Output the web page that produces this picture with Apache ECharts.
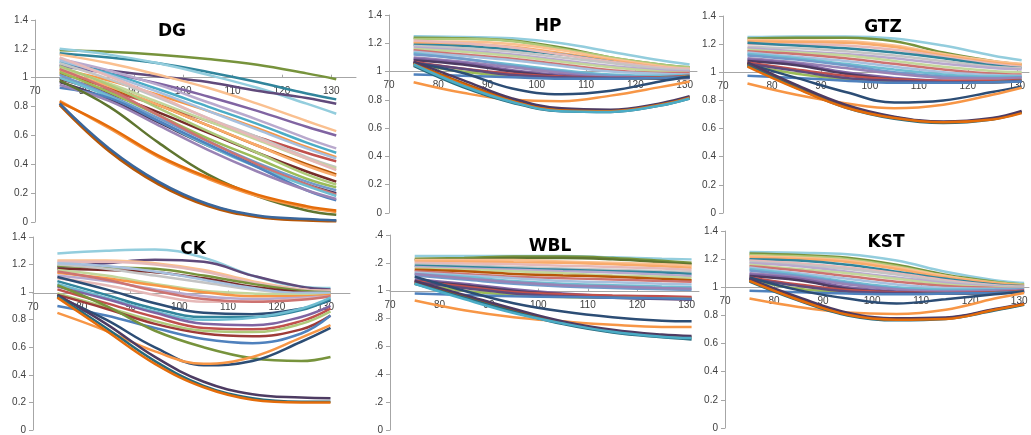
<!DOCTYPE html>
<html>
<head>
<meta charset="utf-8">
<script src="https://cdn.jsdelivr.net/npm/echarts@6/dist/echarts.min.js"></script>
<style>
    html, body { margin: 0; padding: 0; background: #fff; }
    #chart { width: 1031px; height: 435px; }
</style>
</head>
<body>
<div id="chart"></div>
<script>
// x positions shared by every curve
const xs = [75, 85, 95, 105, 115, 125, 131];

const dgLines = [
    [1.19, 1.18, 1.16, 1.13, 1.09, 1.03, 0.99],
    [1.17, 1.14, 1.10, 1.04, 0.97, 0.89, 0.85],
    [1.20, 1.16, 1.10, 1.02, 0.93, 0.82, 0.75],
    [1.09, 1.05, 1.01, 0.97, 0.91, 0.86, 0.82],
    [1.16, 1.10, 1.02, 0.93, 0.82, 0.70, 0.63],
    [1.08, 1.03, 0.96, 0.87, 0.77, 0.66, 0.60],
    [1.13, 1.05, 0.95, 0.83, 0.71, 0.58, 0.51],
    [1.11, 1.03, 0.92, 0.80, 0.68, 0.55, 0.48],
    [1.06, 0.98, 0.88, 0.77, 0.65, 0.52, 0.45],
    [1.12, 1.02, 0.90, 0.77, 0.64, 0.51, 0.44],
    [1.00, 0.91, 0.81, 0.70, 0.59, 0.48, 0.42],
    [1.10, 0.99, 0.86, 0.72, 0.59, 0.45, 0.38],
    [1.07, 0.96, 0.83, 0.70, 0.57, 0.44, 0.37],
    [1.14, 1.01, 0.87, 0.72, 0.58, 0.44, 0.36],
    [1.03, 0.93, 0.81, 0.67, 0.53, 0.40, 0.33],
    [1.05, 0.94, 0.81, 0.67, 0.53, 0.39, 0.32],
    [0.99, 0.89, 0.76, 0.62, 0.48, 0.35, 0.28],
    [1.08, 0.95, 0.79, 0.63, 0.48, 0.33, 0.26],
    [1.04, 0.90, 0.74, 0.58, 0.44, 0.30, 0.24],
    [1.02, 0.88, 0.72, 0.56, 0.41, 0.28, 0.22],
    [0.97, 0.85, 0.69, 0.53, 0.39, 0.26, 0.20],
    [1.06, 0.92, 0.74, 0.56, 0.40, 0.26, 0.19],
    [1.00, 0.87, 0.70, 0.53, 0.38, 0.25, 0.18],
    [0.93, 0.86, 0.70, 0.54, 0.38, 0.22, 0.15],
    [0.95, 0.84, 0.67, 0.50, 0.35, 0.22, 0.16],
    [0.98, 0.80, 0.55, 0.33, 0.18, 0.08, 0.05],
    [0.84, 0.65, 0.45, 0.30, 0.18, 0.10, 0.07],
    [0.83, 0.66, 0.46, 0.31, 0.19, 0.11, 0.08],
    [0.82, 0.50, 0.27, 0.12, 0.04, 0.015, 0.01],
    [0.81, 0.49, 0.26, 0.11, 0.035, 0.01, 0.005],
    [0.82, 0.51, 0.28, 0.125, 0.045, 0.02, 0.01]
];
const dgColors = [20, 22, 28, 21, 29, 3, 27, 4, 5, 24, 1, 30, 26, 25, 11, 17, 7, 14, 2, 12, 9, 13, 16, 0, 15, 8, 5, 23, 6, 11, 18];

const hpLines = [
    [1.25, 1.245, 1.235, 1.20, 1.14, 1.08, 1.05],
    [1.24, 1.235, 1.22, 1.17, 1.10, 1.05, 1.03],
    [1.23, 1.23, 1.215, 1.16, 1.10, 1.05, 1.03],
    [1.21, 1.21, 1.195, 1.15, 1.09, 1.04, 1.02],
    [1.20, 1.195, 1.175, 1.13, 1.08, 1.03, 1.01],
    [1.19, 1.18, 1.155, 1.12, 1.07, 1.02, 1.00],
    [1.22, 1.20, 1.17, 1.12, 1.07, 1.03, 1.02],
    [1.18, 1.165, 1.14, 1.10, 1.06, 1.02, 1.01],
    [1.17, 1.15, 1.12, 1.08, 1.04, 1.01, 1.00],
    [1.16, 1.14, 1.11, 1.07, 1.03, 1.00, 0.99],
    [1.15, 1.12, 1.09, 1.05, 1.01, 0.99, 0.99],
    [1.14, 1.11, 1.08, 1.04, 1.00, 0.985, 0.98],
    [1.13, 1.09, 1.05, 1.01, 0.98, 0.97, 0.975],
    [1.12, 1.09, 1.04, 1.00, 0.97, 0.96, 0.97],
    [1.10, 1.07, 1.03, 0.99, 0.96, 0.96, 0.965],
    [1.09, 1.06, 1.01, 0.975, 0.955, 0.95, 0.96],
    [1.08, 1.05, 1.00, 0.965, 0.95, 0.95, 0.955],
    [1.07, 1.02, 0.985, 0.965, 0.955, 0.96, 0.97],
    [1.05, 1.00, 0.965, 0.955, 0.95, 0.955, 0.965],
    [1.06, 1.02, 0.975, 0.96, 0.955, 0.955, 0.96],
    [0.98, 0.97, 0.96, 0.95, 0.95, 0.955, 0.96],
    [1.06, 0.99, 0.88, 0.84, 0.865, 0.93, 0.965],
    [0.925, 0.85, 0.80, 0.79, 0.83, 0.89, 0.93],
    [1.06, 0.92, 0.80, 0.73, 0.72, 0.77, 0.82],
    [1.04, 0.89, 0.78, 0.72, 0.715, 0.76, 0.81],
    [1.07, 0.94, 0.81, 0.74, 0.73, 0.775, 0.825],
    [1.05, 0.91, 0.79, 0.725, 0.72, 0.765, 0.815],
    [1.05, 0.90, 0.785, 0.72, 0.715, 0.76, 0.81]
];
const hpColors = [28, 20, 14, 29, 17, 22, 25, 30, 27, 26, 13, 24, 16, 12, 15, 3, 9, 1, 2, 21, 0, 6, 5, 11, 10, 9, 23, 4];

const gtzLines = [
    [1.25, 1.255, 1.255, 1.24, 1.19, 1.12, 1.085],
    [1.24, 1.245, 1.245, 1.22, 1.14, 1.08, 1.055],
    [1.23, 1.225, 1.22, 1.19, 1.13, 1.08, 1.06],
    [1.22, 1.215, 1.21, 1.18, 1.12, 1.07, 1.05],
    [1.20, 1.20, 1.19, 1.16, 1.11, 1.06, 1.04],
    [1.21, 1.19, 1.17, 1.14, 1.10, 1.05, 1.03],
    [1.18, 1.17, 1.15, 1.12, 1.08, 1.04, 1.03],
    [1.17, 1.15, 1.13, 1.10, 1.06, 1.03, 1.02],
    [1.16, 1.14, 1.12, 1.08, 1.04, 1.01, 1.00],
    [1.15, 1.13, 1.10, 1.06, 1.02, 0.99, 0.985],
    [1.14, 1.11, 1.08, 1.04, 1.00, 0.98, 0.975],
    [1.13, 1.10, 1.06, 1.02, 0.985, 0.97, 0.97],
    [1.12, 1.09, 1.05, 1.00, 0.97, 0.96, 0.965],
    [1.10, 1.07, 1.03, 0.99, 0.96, 0.955, 0.96],
    [1.09, 1.06, 1.00, 0.96, 0.94, 0.935, 0.94],
    [1.08, 1.05, 0.99, 0.95, 0.935, 0.93, 0.935],
    [1.07, 1.02, 0.975, 0.95, 0.94, 0.94, 0.945],
    [1.05, 0.99, 0.95, 0.93, 0.925, 0.93, 0.94],
    [1.06, 1.01, 0.96, 0.94, 0.93, 0.93, 0.94],
    [0.975, 0.96, 0.94, 0.925, 0.925, 0.93, 0.935],
    [1.06, 0.96, 0.86, 0.785, 0.80, 0.86, 0.90],
    [0.92, 0.84, 0.78, 0.745, 0.77, 0.84, 0.89],
    [1.06, 0.90, 0.76, 0.68, 0.645, 0.67, 0.72],
    [1.05, 0.89, 0.75, 0.67, 0.64, 0.665, 0.715],
    [1.07, 0.91, 0.77, 0.685, 0.65, 0.675, 0.725],
    [1.04, 0.885, 0.75, 0.675, 0.645, 0.665, 0.71]
];
const gtzColors = [28, 20, 29, 17, 25, 22, 30, 27, 26, 13, 24, 16, 12, 15, 3, 9, 1, 2, 21, 0, 6, 5, 11, 10, 9, 23];

const ckLines = [
    [1.28, 1.30, 1.31, 1.25, 1.12, 1.04, 1.03],
    [1.18, 1.21, 1.235, 1.22, 1.12, 1.04, 1.02],
    [1.23, 1.23, 1.21, 1.16, 1.08, 1.02, 1.01],
    [1.22, 1.22, 1.20, 1.15, 1.07, 1.02, 1.01],
    [1.19, 1.18, 1.17, 1.12, 1.06, 1.01, 1.00],
    [1.17, 1.16, 1.145, 1.10, 1.04, 1.00, 0.99],
    [1.20, 1.17, 1.12, 1.07, 1.02, 0.99, 0.99],
    [1.21, 1.19, 1.15, 1.09, 1.03, 0.995, 0.995],
    [1.16, 1.12, 1.06, 1.01, 0.99, 0.98, 0.98],
    [1.14, 1.10, 1.05, 1.00, 0.97, 0.97, 0.98],
    [1.12, 1.08, 1.02, 0.97, 0.95, 0.96, 0.97],
    [1.10, 1.05, 0.98, 0.93, 0.93, 0.95, 0.97],
    [1.15, 1.09, 1.01, 0.95, 0.93, 0.945, 0.97],
    [1.11, 1.02, 0.92, 0.85, 0.84, 0.88, 0.94],
    [1.08, 0.98, 0.88, 0.82, 0.82, 0.87, 0.95],
    [1.06, 0.96, 0.86, 0.80, 0.815, 0.88, 0.96],
    [1.04, 0.95, 0.85, 0.77, 0.76, 0.82, 0.90],
    [1.02, 0.92, 0.82, 0.74, 0.73, 0.79, 0.88],
    [0.99, 0.89, 0.79, 0.72, 0.71, 0.77, 0.86],
    [0.98, 0.88, 0.77, 0.70, 0.68, 0.73, 0.83],
    [0.90, 0.83, 0.74, 0.66, 0.63, 0.70, 0.83],
    [1.05, 0.90, 0.72, 0.60, 0.52, 0.50, 0.53],
    [0.97, 0.80, 0.60, 0.47, 0.50, 0.64, 0.74],
    [0.85, 0.72, 0.57, 0.48, 0.53, 0.67, 0.76],
    [0.98, 0.77, 0.53, 0.35, 0.26, 0.235, 0.23],
    [0.97, 0.74, 0.50, 0.32, 0.23, 0.205, 0.205],
    [0.96, 0.72, 0.48, 0.31, 0.22, 0.20, 0.20]
];
const ckColors = [28, 21, 29, 25, 20, 7, 30, 24, 26, 5, 27, 25, 13, 6, 22, 16, 3, 1, 14, 19, 0, 20, 6, 5, 9, 10, 23];

const wblLines = [
    [1.25, 1.25, 1.25, 1.25, 1.24, 1.23, 1.225],
    [1.23, 1.235, 1.245, 1.245, 1.235, 1.215, 1.20],
    [1.22, 1.225, 1.235, 1.235, 1.225, 1.205, 1.19],
    [1.22, 1.22, 1.22, 1.21, 1.20, 1.19, 1.18],
    [1.21, 1.21, 1.205, 1.20, 1.19, 1.175, 1.165],
    [1.20, 1.195, 1.19, 1.18, 1.17, 1.16, 1.15],
    [1.19, 1.18, 1.17, 1.16, 1.15, 1.14, 1.135],
    [1.18, 1.17, 1.16, 1.15, 1.14, 1.13, 1.12],
    [1.17, 1.16, 1.15, 1.14, 1.13, 1.115, 1.105],
    [1.16, 1.15, 1.14, 1.125, 1.11, 1.10, 1.09],
    [1.15, 1.14, 1.12, 1.11, 1.10, 1.085, 1.075],
    [1.14, 1.12, 1.10, 1.09, 1.08, 1.07, 1.065],
    [1.13, 1.11, 1.09, 1.07, 1.06, 1.05, 1.045],
    [1.12, 1.10, 1.07, 1.05, 1.04, 1.03, 1.025],
    [1.11, 1.08, 1.05, 1.03, 1.02, 1.01, 1.005],
    [1.12, 1.09, 1.06, 1.04, 1.03, 1.02, 1.015],
    [1.08, 1.05, 1.01, 0.98, 0.96, 0.95, 0.95],
    [1.07, 1.04, 1.00, 0.975, 0.955, 0.945, 0.94],
    [1.07, 1.03, 0.99, 0.975, 0.965, 0.96, 0.955],
    [1.05, 1.00, 0.97, 0.955, 0.95, 0.945, 0.94],
    [1.06, 1.02, 0.98, 0.96, 0.95, 0.94, 0.935],
    [0.98, 0.97, 0.96, 0.955, 0.95, 0.945, 0.94],
    [1.10, 1.00, 0.91, 0.85, 0.81, 0.785, 0.78],
    [0.93, 0.86, 0.81, 0.78, 0.755, 0.74, 0.74],
    [1.06, 0.96, 0.86, 0.77, 0.71, 0.675, 0.665],
    [1.05, 0.95, 0.85, 0.76, 0.70, 0.665, 0.65],
    [1.07, 0.97, 0.87, 0.78, 0.72, 0.685, 0.675],
    [1.05, 0.94, 0.84, 0.765, 0.705, 0.67, 0.66]
];
const wblColors = [28, 20, 8, 29, 17, 25, 30, 22, 27, 26, 11, 13, 24, 16, 12, 15, 3, 9, 1, 2, 21, 0, 6, 5, 11, 10, 9, 4];

const kstLines = [
    [1.25, 1.245, 1.235, 1.19, 1.11, 1.05, 1.03],
    [1.24, 1.23, 1.21, 1.16, 1.09, 1.04, 1.02],
    [1.23, 1.22, 1.20, 1.15, 1.08, 1.035, 1.02],
    [1.22, 1.21, 1.19, 1.14, 1.08, 1.03, 1.015],
    [1.21, 1.20, 1.18, 1.13, 1.07, 1.03, 1.01],
    [1.20, 1.19, 1.16, 1.11, 1.06, 1.02, 1.01],
    [1.19, 1.17, 1.14, 1.10, 1.05, 1.015, 1.005],
    [1.18, 1.16, 1.13, 1.09, 1.04, 1.01, 1.00],
    [1.17, 1.15, 1.11, 1.07, 1.03, 1.005, 1.00],
    [1.16, 1.13, 1.10, 1.06, 1.02, 1.00, 0.995],
    [1.15, 1.12, 1.08, 1.04, 1.01, 0.995, 0.99],
    [1.14, 1.10, 1.06, 1.02, 0.995, 0.99, 0.99],
    [1.13, 1.09, 1.04, 1.00, 0.985, 0.985, 0.985],
    [1.12, 1.08, 1.03, 0.99, 0.975, 0.98, 0.985],
    [1.10, 1.07, 1.02, 0.985, 0.97, 0.975, 0.98],
    [1.09, 1.06, 1.00, 0.97, 0.96, 0.965, 0.975],
    [1.08, 1.05, 0.99, 0.965, 0.955, 0.96, 0.97],
    [1.07, 1.02, 0.98, 0.965, 0.96, 0.965, 0.975],
    [1.05, 0.99, 0.965, 0.955, 0.955, 0.96, 0.97],
    [1.06, 1.01, 0.97, 0.96, 0.955, 0.96, 0.97],
    [0.975, 0.965, 0.955, 0.95, 0.955, 0.96, 0.965],
    [1.07, 0.98, 0.92, 0.885, 0.915, 0.95, 0.97],
    [0.92, 0.86, 0.82, 0.81, 0.84, 0.92, 0.96],
    [1.05, 0.92, 0.81, 0.77, 0.78, 0.84, 0.88],
    [1.04, 0.905, 0.80, 0.765, 0.775, 0.835, 0.875],
    [1.06, 0.93, 0.82, 0.78, 0.785, 0.845, 0.885],
    [1.045, 0.91, 0.805, 0.77, 0.775, 0.84, 0.88]
];
const kstColors = [28, 20, 14, 29, 17, 22, 25, 30, 27, 26, 13, 24, 16, 12, 15, 3, 9, 1, 2, 21, 0, 6, 5, 11, 10, 9, 23];

const palette = [
    '#4F81BD', '#C0504D', '#9BBB59', '#8064A2', '#4BACC6', '#F79646',
    '#2C4D75', '#772C2A', '#5F7530', '#4D3B62', '#276A7C', '#B65708',
    '#729ACA', '#CD7371', '#AFC97A', '#9983B5', '#6FBDD1', '#F9AB6B',
    '#3A679C', '#9E3B38', '#77933C', '#604A7B', '#31859C', '#E46C0A',
    '#A7C0DE', '#E6B9B8', '#C3D69B', '#B9A9CD', '#93CDDD', '#FAC090',
    '#C4C4C4'
];

// WBL's left labels are partly hidden behind the CK chart in the original
const clipLabel = v => {
    const s = String(+v.toFixed(1));
    return s.length === 3 ? s.slice(1) : s;
};

const panels = [
    {name: 'DG', lines: dgLines, colors: dgColors, left: 35, top: 20, width: 321, height: 202, xMax: 135, tx: 167, ty: 18},
    {name: 'HP', lines: hpLines, colors: hpColors, left: 389, top: 15, width: 308, height: 198, xMax: 132.5, tx: 543, ty: 13},
    {name: 'GTZ', lines: gtzLines, colors: gtzColors, left: 723, top: 16, width: 306, height: 197, xMax: 132.5, tx: 878, ty: 14},
    {name: 'CK', lines: ckLines, colors: ckColors, left: 33, top: 237, width: 317, height: 198, xMax: 135, tx: 188, ty: 236},
    {name: 'WBL', lines: wblLines, colors: wblColors, left: 390, top: 235, width: 309, height: 198, xMax: 132.5, tx: 545, ty: 233, fmt: clipLabel},
    {name: 'KST', lines: kstLines, colors: kstColors, left: 725, top: 231, width: 304, height: 197, xMax: 132, tx: 881, ty: 229}
];

const axisColor = '#a6a6a6';
const labelStyle = {fontSize: 10, color: '#404040', fontFamily: 'Liberation Sans'};

const grid = [], xAxis = [], yAxis = [], series = [], title = [];

panels.forEach((p, i) => {
    const plot = 2 * i, bar = 2 * i + 1;
    // y = 1 sits at this pixel row; the horizontal axis crosses there
    const y1 = p.top + p.height * (0.4 / 1.4);

    grid.push({left: p.left, top: p.top, width: p.width, height: p.height});
    grid.push({left: p.left, top: y1, width: p.width, height: 1});

    xAxis.push({type: 'value', gridIndex: plot, min: 70, max: p.xMax, show: false});
    yAxis.push({
        type: 'value', gridIndex: plot, min: 0, max: 1.4, interval: 0.2,
        axisLine: {show: true, onZero: false, lineStyle: {color: axisColor}},
        axisTick: {show: true, length: 4, lineStyle: {color: axisColor}},
        splitLine: {show: false},
        axisLabel: Object.assign({margin: 7, formatter: p.fmt}, labelStyle)
    });

    xAxis.push({
        type: 'value', gridIndex: bar, position: 'top', min: 70, max: p.xMax, interval: 10,
        axisLine: {show: true, onZero: false, lineStyle: {color: axisColor}},
        axisTick: {show: true, length: 3, inside: false, lineStyle: {color: axisColor}},
        splitLine: {show: false},
        axisLabel: Object.assign({inside: true, margin: 9, showMaxLabel: false}, labelStyle)
    });
    yAxis.push({type: 'value', gridIndex: bar, min: 0, max: 1, show: false});

    title.push({
        text: p.name, left: p.tx, top: p.ty, textAlign: 'center',
        textStyle: {fontSize: 17, fontWeight: 'bold', color: '#000', fontFamily: 'DejaVu Sans'}
    });

    p.lines.forEach((line, k) => {
        series.push({
            type: 'line',
            xAxisIndex: plot,
            yAxisIndex: plot,
            smooth: 0.4,
            symbol: 'none',
            silent: true,
            lineStyle: {width: 2.5, color: palette[p.colors[k]]},
            data: line.map((v, j) => [xs[j], v])
        });
    });
});

const chart = echarts.init(document.getElementById('chart'));
chart.setOption({
    backgroundColor: '#fff',
    animation: false,
    title: title,
    grid: grid,
    xAxis: xAxis,
    yAxis: yAxis,
    series: series
});
window.addEventListener('resize', function () {
    chart.resize();
});
</script>
</body>
</html>
